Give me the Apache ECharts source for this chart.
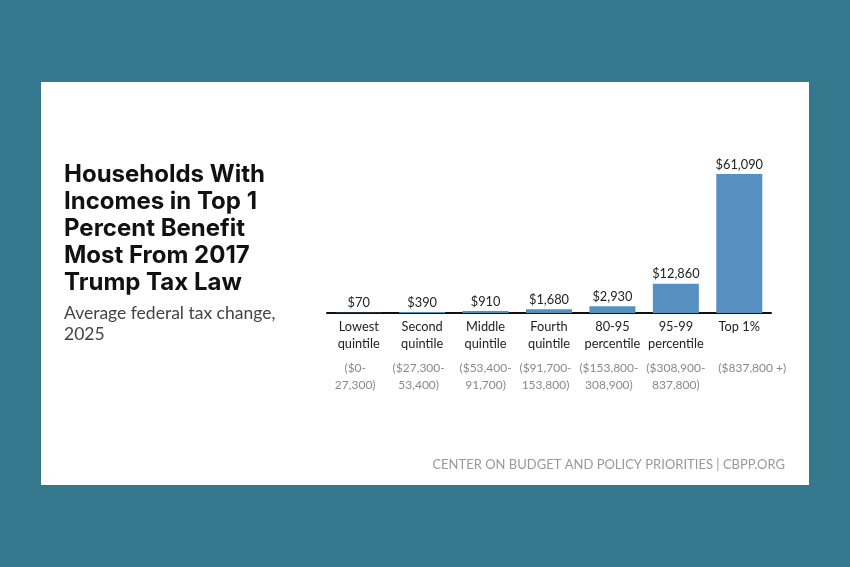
<!DOCTYPE html>
<html>
<head>
<meta charset="utf-8">
<title>Trump Tax Law</title>
<style>
html, body { margin: 0; padding: 0; background: #35778c; }
#chart { width: 850px; height: 567px; }
</style>
<script src="https://cdn.jsdelivr.net/npm/echarts@6/dist/echarts.min.js"></script>
</head>
<body>
<div id="chart"></div>
<script>
var groups = ['Lowest\nquintile', 'Second\nquintile', 'Middle\nquintile', 'Fourth\nquintile', '80-95\npercentile', '95-99\npercentile', 'Top 1%\n '];
var incomes = ['($0-\n27,300)', '($27,300-\n53,400)', '($53,400-\n91,700)', '($91,700-\n153,800)', '($153,800-\n308,900)', '($308,900-\n837,800)', '($837,800 +)\n '];
var taxChange = [70, 390, 910, 1680, 2930, 12860, 61090];
var headline = 'Households With\nIncomes in Top 1\nPercent Benefit\nMost From 2017\nTrump Tax Law';
var subhead = 'Average federal tax change,\n2025';
var credit = 'CENTER ON BUDGET AND POLICY PRIORITIES | CBPP.ORG';

var chart = echarts.init(document.getElementById('chart'));

function tagLines(text, tag) {
    return text.split('\n').map(function (line) {
        return '{' + tag + '|' + line + '}';
    }).join('\n');
}

// the income ranges do not sit quite centred under their bars in the original
function incomeTag(index) {
    if (index === 6) return 'right';
    if (index === 0 || index === 1 || index === 3 || index === 4) return 'left';
    return 'income';
}

var option = {
    animation: false,
    backgroundColor: '#35778c',
    textStyle: { fontFamily: 'Lato' },
    graphic: [{
        type: 'rect',
        z: -1,
        shape: { x: 41, y: 82, width: 768, height: 403 },
        style: { fill: '#ffffff' }
    }],
    title: [{
        text: headline,
        left: 64,
        top: 161,
        padding: 0,
        textStyle: { fontFamily: 'Inter', fontSize: 24, fontWeight: 700, color: '#111111', lineHeight: 27 }
    }, {
        text: subhead,
        left: 64,
        top: 303,
        padding: 0,
        textStyle: { fontFamily: 'Lato', fontSize: 17.5, fontWeight: 400, color: '#444444', lineHeight: 21 }
    }, {
        text: credit,
        right: 65,
        top: 458,
        padding: 0,
        textStyle: { fontFamily: 'Lato', fontSize: 13, fontWeight: 400, color: '#999999' }
    }],
    grid: { left: 327, top: 174, width: 444, height: 139 },
    xAxis: {
        type: 'category',
        data: groups,
        axisLine: { lineStyle: { color: '#111111', width: 2 } },
        axisTick: { show: false },
        axisLabel: {
            interval: 0,
            margin: 6,
            formatter: function (value, index) {
                return tagLines(value, 'name') + '\n{gap| }\n' + tagLines(incomes[index], incomeTag(index));
            },
            rich: {
                name: { fontFamily: 'Lato', fontSize: 12.8, color: '#222222', lineHeight: 16.5 },
                gap: { fontSize: 8, lineHeight: 8 },
                income: { fontFamily: 'Lato', fontSize: 12, color: '#8a8a8a', lineHeight: 16.5 },
                left: { fontFamily: 'Lato', fontSize: 12, color: '#8a8a8a', lineHeight: 16.5, padding: [0, 7, 0, 0] },
                right: { fontFamily: 'Lato', fontSize: 12, color: '#8a8a8a', lineHeight: 16.5, padding: [0, 0, 0, 26] }
            }
        }
    },
    yAxis: { type: 'value', min: 0, max: 61090, show: false },
    series: [{
        type: 'bar',
        data: taxChange,
        barWidth: 46,
        itemStyle: { color: '#5590c1' },
        label: {
            show: true,
            position: 'top',
            distance: 3,
            fontFamily: 'Lato',
            fontSize: 12.8,
            color: '#222222',
            formatter: function (p) {
                return '$' + p.value.toLocaleString('en-US');
            }
        }
    }]
};
chart.setOption(option);
</script>
</body>
</html>
